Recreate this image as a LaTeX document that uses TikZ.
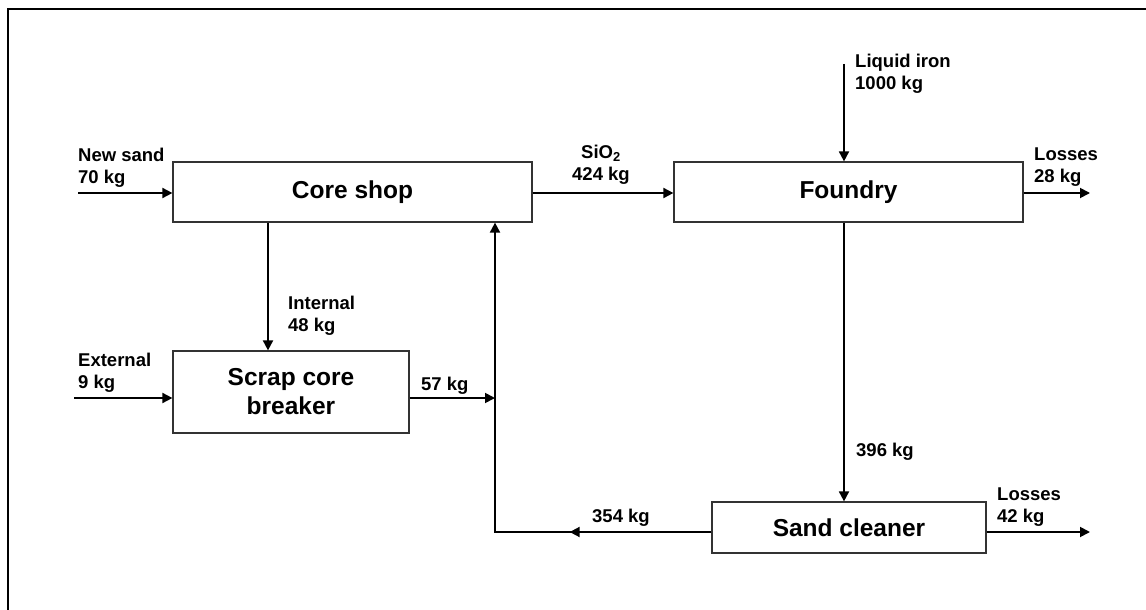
\documentclass[tikz,border=0pt]{standalone}
\usepackage{fontspec}
\setmainfont{Liberation Sans}
\usepackage{tikz}
\usetikzlibrary{arrows.meta, positioning, calc}

\begin{document}
\begin{tikzpicture}[x=1pt, y=-1pt,
  unit/.style={draw=black!80, line width=1.2pt, inner sep=0pt, align=center,
    font=\fontsize{24.5}{29}\selectfont\bfseries},
  lbl/.style={inner sep=0pt, anchor=north west, align=left,
    font=\fontsize{18.5}{22}\selectfont\bfseries},
  flow/.style={line width=1.8pt, -{Triangle[length=10pt, width=10pt]}},
  pipe/.style={line width=1.8pt}]
\useasboundingbox (0,0) rectangle (1146,610);

% Frame
\draw[line width=2.2pt] (8,610) -- (8,9) -- (1146,9);

% Process units
\node[unit, minimum width=359pt, minimum height=60pt] (core) at (352.5,192) {Core shop};
\node[unit, minimum width=349pt, minimum height=60pt] (foundry) at (848.5,192) {Foundry};
\node[unit, minimum width=236pt, minimum height=82pt] (scrap) at (291,392) {Scrap core\\breaker};
\node[unit, minimum width=274pt, minimum height=51pt] (cleaner) at (849,527.5) {Sand cleaner};

% Free ends and junctions
\coordinate (newsand) at (78,193);
\coordinate (external) at (74,398);
\coordinate (iron) at (844,64);
\coordinate (loss1) at (1090,193);
\coordinate (loss2) at (1090,532);
\coordinate (merge) at (495,398);
\coordinate (corner) at (495,532);

% Flows
\draw[flow] (newsand) -- (core.west |- newsand);
\draw[flow] (core.east |- newsand) -- (foundry.west |- newsand);
\draw[flow] (iron) -- (foundry.north -| iron);
\draw[flow] (foundry.east |- loss1) -- (loss1);
\draw[flow] ([xshift=-84.5pt]core.south) -- ([xshift=-84.5pt]core.south |- scrap.north);
\draw[flow] (external) -- (scrap.west |- external);
\draw[flow] (scrap.east |- merge) -- (merge);
\draw[flow] (foundry.south -| iron) -- (cleaner.north -| iron);
\draw[flow] (cleaner.east |- loss2) -- (loss2);
\draw[flow] (cleaner.west |- corner) -- (corner) -- (core.south -| corner);
\draw[flow] (cleaner.west |- corner) -- ($(corner)!0.345!(cleaner.west |- corner)$);

% Labels
\node[lbl] (newsandlbl) at (78,148) {New sand\\70 kg};
\node[lbl, anchor=north, align=center] (sio) at (601,145) {SiO\textsubscript{2}\\424 kg};
\node[lbl] (ironlbl) at (855,54) {Liquid iron\\1000 kg};
\node[lbl] (loss1lbl) at (1034,148) {Losses\\28 kg};
\node[lbl] (internallbl) at (288,296) {Internal\\48 kg};
\node[lbl] (externallbl) at (78,353) {External\\9 kg};
\node[lbl] (scraplbl) at (421,377) {57 kg};
\node[lbl] (cleanerin) at (856,443) {396 kg};
\node[lbl] (returnlbl) at (592,509) {354 kg};
\node[lbl] (loss2lbl) at (997,488) {Losses\\42 kg};
\end{tikzpicture}
\end{document}
